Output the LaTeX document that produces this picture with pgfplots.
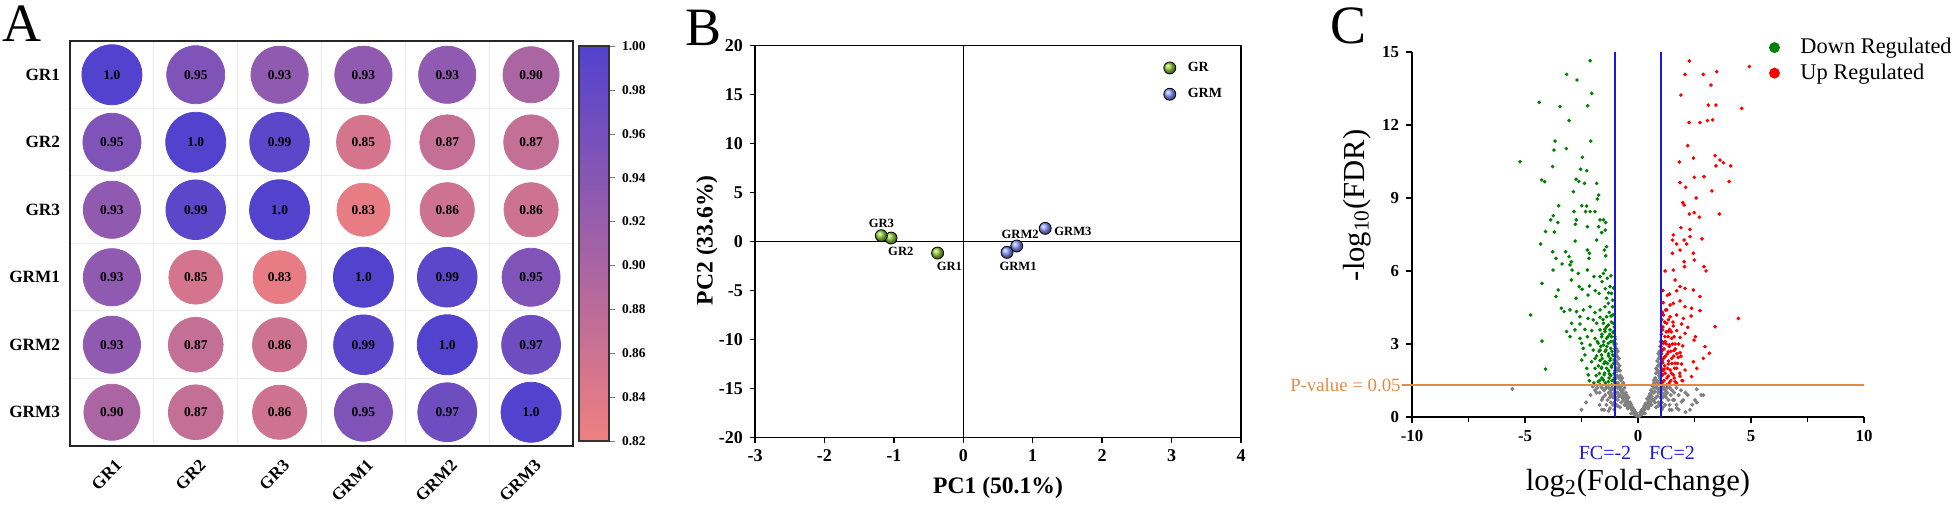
\documentclass[border=0pt]{standalone}
\usepackage{pgfplots}
\pgfplotsset{compat=1.18}
\usepackage{fontspec}
\setmainfont{Liberation Serif}
\usetikzlibrary{plotmarks}
\newcommand{\fs}[1]{\fontsize{#1}{#1}\selectfont}
\definecolor{cpink}{RGB}{240,128,128}
\definecolor{cblue}{RGB}{83,66,206}
\definecolor{grgreen}{RGB}{140,205,45}
\definecolor{grmblue}{RGB}{135,150,255}
\definecolor{dgreen}{RGB}{0,128,0}
\definecolor{ured}{RGB}{250,0,0}
\definecolor{ngray}{RGB}{128,128,128}
\definecolor{fcblue}{RGB}{25,25,220}
\definecolor{porange}{RGB}{225,140,70}
\pgfplotsset{
  corrpt/.style={only marks, mark=*, point meta=explicit,
    every node near coord/.append style={anchor=center, font=\bfseries\fs{6.7pt}, text=black}},
  corr2/.style 2 args={corrpt, mark size=#1, color=cblue!#2!cpink,
    nodes near coords={\pgfmathprintnumber[fixed, fixed zerofill, precision=2, assume math mode=true]{\pgfplotspointmeta}}},
  corr1/.style 2 args={corrpt, mark size=#1, color=cblue!#2!cpink,
    nodes near coords={\pgfmathprintnumber[fixed, fixed zerofill, precision=1, assume math mode=true]{\pgfplotspointmeta}}},
}

\begin{document}
\begin{tikzpicture}
\useasboundingbox (0,0) rectangle (980pt,253pt);
\node[anchor=north west, inner sep=0pt, font=\fs{27pt}] at (1pt,250.5pt) {A};
\node[anchor=north west, inner sep=0pt, font=\fs{27pt}] at (342.5pt,248pt) {B};
\node[anchor=north west, inner sep=0pt, font=\fs{27pt}] at (665pt,249.5pt) {C};

% ---------------- Panel A ----------------
\begin{axis}[
  at={(35pt,30pt)}, anchor=south west, scale only axis,
  width=251.5pt, height=202.5pt,
  xmin=-0.5, xmax=5.5, ymin=-0.5, ymax=5.5, y dir=reverse,
  xtick={0,...,5}, ytick={0,...,5},
  xticklabels={GR1,GR2,GR3,GRM1,GRM2,GRM3},
  yticklabels={GR1,GR2,GR3,GRM1,GRM2,GRM3},
  major tick length=0pt, minor tick length=0pt,
  minor xtick={0.5,1.5,2.5,3.5,4.5}, minor ytick={0.5,1.5,2.5,3.5,4.5},
  xminorgrids, yminorgrids, minor grid style={black!8, line width=0.5pt},
  axis line style={line width=1pt, black!85},
  xticklabel style={rotate=45, anchor=north east, font=\bfseries\fs{8.6pt}, yshift=-2pt},
  yticklabel style={font=\bfseries\fs{8.6pt}, xshift=-1.5pt},
  colormap={corr}{rgb255=(240,128,128) rgb255=(83,66,206)},
  point meta min=0.82, point meta max=1.0,
  colorbar,
  colorbar style={at={(1.012,0.5)}, anchor=west, scale only axis,
    width=15pt, height=197.5pt,
    ytick={0.82,0.84,0.86,0.88,0.90,0.92,0.94,0.96,0.98,1.00},
    ytick pos=right, yticklabel pos=right,
    tick align=outside, major tick length=3pt,
    axis line style={line width=0.6pt, black!80},
    yticklabel style={font=\bfseries\fs{6.7pt},
      /pgf/number format/.cd, fixed, fixed zerofill, precision=2, assume math mode=true}},
]
\addplot[corr1={15.0pt}{100}] coordinates {(0,0) [1.00] (1,1) [1.00] (2,2) [1.00] (3,3) [1.00] (4,4) [1.00] (5,5) [1.00]};
\addplot[corr2={14.9pt}{94}] coordinates {(2,1) [0.99] (1,2) [0.99] (4,3) [0.99] (3,4) [0.99]};
\addplot[corr2={14.7pt}{83}] coordinates {(5,4) [0.97] (4,5) [0.97]};
\addplot[corr2={14.5pt}{72}] coordinates {(1,0) [0.95] (0,1) [0.95] (5,3) [0.95] (3,5) [0.95]};
\addplot[corr2={14.3pt}{61}] coordinates {(2,0) [0.93] (3,0) [0.93] (4,0) [0.93] (0,2) [0.93] (0,3) [0.93] (0,4) [0.93]};
\addplot[corr2={14.0pt}{44}] coordinates {(5,0) [0.90] (0,5) [0.90]};
\addplot[corr2={13.7pt}{28}] coordinates {(4,1) [0.87] (5,1) [0.87] (1,4) [0.87] (1,5) [0.87]};
\addplot[corr2={13.55pt}{22}] coordinates {(4,2) [0.86] (5,2) [0.86] (2,4) [0.86] (2,5) [0.86]};
\addplot[corr2={13.45pt}{17}] coordinates {(3,1) [0.85] (1,3) [0.85]};
\addplot[corr2={13.25pt}{6}] coordinates {(3,2) [0.83] (2,3) [0.83]};
\end{axis}

% ---------------- Panel B ----------------
\begin{axis}[
  at={(377.5pt,34.15pt)}, anchor=south west, scale only axis,
  width=243pt, height=196pt,
  xmin=-3, xmax=4, ymin=-20, ymax=20,
  xtick={-3,...,4}, ytick={-20,-15,...,20},
  tick align=outside, xtick pos=bottom, ytick pos=left, major tick length=2.5pt,
  axis line style={line width=0.7pt},
  tick style={line width=0.7pt, black},
  tick label style={font=\bfseries\fs{9pt}},
  /pgf/number format/assume math mode=true,
  xlabel={PC1 (50.1\%)}, ylabel={PC2 (33.6\%)},
  label style={font=\bfseries\fs{11.8pt}},
  xlabel style={at={(axis description cs:0.5,-0.128)}, anchor=center},
  ylabel style={at={(axis description cs:-0.099,0.504)}, anchor=center},
  clip mode=individual,
  legend style={draw=none, fill=none, at={(0.8395,0.965)}, anchor=north west,
    inner sep=0pt, nodes={inner sep=1pt}, font=\bfseries\fs{7pt}, row sep=5pt},
  legend cell align=left,
  legend image code/.code={\draw[#1] plot coordinates {(0pt,0pt)}; \path[draw=none,fill=none] (-3pt,0pt) -- (8pt,0pt);},
]
\addplot[black, line width=0.7pt, forget plot] coordinates {(-3,0) (4,0)};
\addplot[black, line width=0.7pt, forget plot] coordinates {(0,-20) (0,20)};
\addplot[only marks, mark=ball, mark size=3pt, mark options={ball color=grgreen}]
  coordinates {(-0.37,-1.16) (-1.04,0.37) (-1.18,0.61)};
\addlegendentry{GR}
\addplot[only marks, mark=ball, mark size=3pt, mark options={ball color=grmblue}]
  coordinates {(0.63,-1.09) (0.77,-0.44) (1.18,1.36)};
\addlegendentry{GRM}
\node[font=\bfseries\fs{6.3pt}] at (axis cs:-1.18,1.87) {GR3};
\node[font=\bfseries\fs{6.3pt}] at (axis cs:-0.90,-1.02) {GR2};
\node[font=\bfseries\fs{6.3pt}] at (axis cs:-0.20,-2.52) {GR1};
\node[font=\bfseries\fs{6.3pt}] at (axis cs:0.79,-2.52) {GRM1};
\node[font=\bfseries\fs{6.3pt}] at (axis cs:0.82,0.71) {GRM2};
\node[font=\bfseries\fs{6.3pt}] at (axis cs:1.58,1.05) {GRM3};
\end{axis}

% ---------------- Panel C ----------------
\begin{axis}[
  at={(706pt,44.5pt)}, anchor=south west, scale only axis,
  width=226pt, height=182.5pt,
  xmin=-10, xmax=10, ymin=0, ymax=15,
  axis lines*=left, axis line style={line width=1pt},
  xtick={-10,-5,0,5,10}, minor xtick={-7.5,-2.5,2.5,7.5}, ytick={0,3,...,15},
  tick align=outside, major tick length=3pt, minor tick length=2.5pt,
  tick style={line width=0.8pt, black},
  tick label style={font=\bfseries\fs{8.4pt}},
  /pgf/number format/assume math mode=true,
  xlabel={log\textsubscript{2}(Fold-change)}, ylabel={-log\textsubscript{10}(FDR)},
  label style={font=\fs{15.3pt}},
  xlabel style={at={(axis description cs:0.5,-0.18)}, anchor=center},
  ylabel style={at={(axis description cs:-0.122,0.58)}, anchor=center},
  clip mode=individual,
  legend style={draw=none, fill=none, at={(0.79,1.044)}, anchor=north west,
    inner sep=0pt, nodes={inner sep=1pt}, font=\fs{11.2pt}, row sep=1.5pt},
  legend cell align=left,
  legend image code/.code={\draw[#1, mark size=2.5pt] plot coordinates {(0pt,0pt)}; \path[draw=none,fill=none] (-2.5pt,0pt) -- (12pt,0pt);},
]
% not significant
\addplot[only marks, mark=*, mark size=0.8pt, color=ngray, forget plot] coordinates {
(-1.0,3.2) (-0.98,3.0) (-0.95,2.8) (-0.99,2.6) (-0.93,2.5) (-0.9,2.7) (-0.97,2.3) (-0.9,2.2)
(-0.85,2.4) (-0.88,2.0) (-0.82,2.1) (-0.8,1.9) (-0.95,1.9) (-0.78,1.7) (-0.85,1.6) (-0.75,1.5)
(-0.7,1.6) (-0.72,1.3) (-0.65,1.4) (-0.68,1.1) (-0.6,1.2) (-0.62,0.9) (-0.55,1.0) (-0.55,0.8)
(-0.5,0.9) (-0.48,0.7) (-0.45,0.6) (-0.42,0.8) (-0.4,0.5) (-0.35,0.6) (-0.35,0.4) (-0.3,0.5)
(-0.28,0.3) (-0.25,0.4) (-0.22,0.25) (-0.2,0.15) (-0.18,0.3) (-0.15,0.1) (-0.12,0.2) (-0.1,0.08)
(-0.05,0.05) (-0.08,0.15)
(-1.0,1.2) (-1.05,1.0) (-1.1,1.15) (-1.15,0.9) (-1.2,1.1) (-1.25,0.8) (-1.3,1.0) (-1.35,0.7)
(-1.4,1.2) (-1.45,0.9) (-1.5,1.1) (-1.55,0.8) (-1.6,1.2) (-1.7,1.0) (-1.8,1.2) (-1.9,1.1)
(-2.0,1.25) (-1.2,0.6) (-1.1,0.5) (-1.0,0.8) (-0.95,1.0) (-0.9,0.7) (-0.85,1.2) (-1.05,0.3)
(-1.3,0.25) (-1.6,0.3) (-2.3,0.6) (-0.98,1.4) (-1.0,1.7) (-0.96,2.0) (-1.02,2.9) (-0.92,1.2)
(-0.8,0.9) (-0.75,1.1) (-0.7,0.8) (-5.56,1.15) (-1.83,1.0) (-1.50,0.29) (-1.24,0.36)
(-0.3,0.15) (-0.45,0.35) (-0.6,0.5) (-0.75,0.6) (-0.9,0.45) (-0.65,0.7) (-0.5,0.45) (-0.55,0.6)
(-0.8,1.2) (-0.7,1.0) (-0.9,1.0) (-0.85,0.85) (-1.0,1.0) (-1.1,0.8) (-1.2,0.9) (-1.3,1.2)
(-1.15,1.2) (-1.25,1.0) (-1.05,0.6) (-0.95,0.5) (-0.8,0.4) (-1.4,0.5) (-1.6,0.7) (-1.7,0.5)
(-2.1,0.9) (-2.5,0.3) (-0.92,1.7) (-0.88,1.4) (-0.97,1.6) (-0.9,1.9) (-1.0,2.2) (-1.0,2.5)
(1.0,3.1) (0.98,2.9) (0.95,2.7) (0.97,2.5) (0.92,2.4) (0.9,2.6) (0.95,2.2) (0.88,2.1)
(0.85,2.3) (0.86,1.9) (0.8,2.0) (0.8,1.8) (0.93,1.8) (0.76,1.6) (0.83,1.5) (0.72,1.4)
(0.7,1.5) (0.7,1.2) (0.63,1.3) (0.66,1.0) (0.58,1.1) (0.6,0.85) (0.53,0.95) (0.52,0.75)
(0.48,0.85) (0.46,0.65) (0.43,0.55) (0.4,0.75) (0.38,0.45) (0.33,0.55) (0.32,0.35) (0.28,0.45)
(0.26,0.28) (0.22,0.35) (0.2,0.2) (0.18,0.12) (0.16,0.28) (0.13,0.1) (0.1,0.18) (0.08,0.06)
(0.04,0.04)
(1.0,1.2) (1.05,1.0) (1.1,1.15) (1.15,0.9) (1.2,1.1) (1.25,0.8) (1.3,1.0) (1.35,0.7)
(1.4,1.2) (1.45,0.9) (1.5,1.1) (1.55,0.7) (1.6,1.0) (1.7,1.2) (1.8,0.9) (1.9,1.1)
(2.0,0.7) (2.2,0.9) (2.4,0.5) (2.8,0.9) (2.6,0.6) (1.2,0.5) (1.1,0.4) (1.0,0.8)
(0.95,1.0) (0.9,0.6) (0.85,1.2) (1.05,0.3) (1.4,0.3) (1.8,0.3) (2.1,0.2) (0.98,1.5)
(1.0,1.8) (0.96,2.1) (1.02,2.7) (0.92,1.1) (0.8,0.8) (0.75,1.05) (0.7,0.7)
(2.6,1.14) (2.89,0.9) (2.52,0.70) (1.93,0.63) (1.71,0.36) (1.49,0.29)
(0.3,0.15) (0.45,0.35) (0.6,0.5) (0.75,0.6) (0.9,0.45) (0.65,0.7) (0.5,0.45) (0.55,0.6)
(0.8,1.2) (0.7,1.0) (0.9,1.0) (0.85,0.85) (1.0,1.0) (1.1,0.8) (1.2,0.9) (1.3,1.2)
(1.15,1.2) (1.25,1.0) (1.05,0.6) (0.95,0.5) (0.8,0.4) (1.4,0.5) (1.6,0.7) (1.7,0.5)
(2.1,1.0) (2.3,0.3) (0.92,1.7) (0.88,1.4) (0.97,1.6) (0.9,1.9) (1.0,2.2) (1.0,2.5)
};
% down regulated
\addplot[only marks, mark=*, mark size=0.7pt, color=dgreen] coordinates {
(-2.12,14.64) (-3.16,14.08) (-2.70,13.85) (-2.05,13.30) (-4.37,12.93) (-3.45,12.75) (-2.23,12.79)
(-3.05,12.18) (-3.67,11.34) (-2.09,11.34) (-3.72,10.97) (-3.17,11.03) (-5.22,10.49) (-2.46,10.67)
(-3.78,10.29) (-2.54,10.18) (-2.27,10.12) (-4.26,9.74) (-4.13,9.67) (-2.74,9.77) (-2.62,9.68)
(-2.37,9.60) (-1.83,9.60) (-2.86,9.26) (-1.74,9.12) (-1.80,8.96) (-3.51,8.68) (-2.49,8.68)
(-2.27,8.67) (-2.83,8.44) (-2.32,8.44) (-2.12,8.44) (-1.90,8.44) (-3.75,8.27) (-3.86,8.10)
(-3.55,7.99) (-2.73,8.10) (-1.68,8.10) (-1.53,8.10) (-1.43,7.99) (-1.74,7.82) (-2.24,7.82)
(-2.77,7.92) (-4.09,7.62) (-3.70,7.60) (-1.61,7.58) (-1.45,7.68) (-2.78,7.23) (-1.83,7.27)
(-4.31,7.11) (-3.78,6.79) (-3.20,6.79) (-2.24,6.86) (-1.39,7.00) (-1.49,6.86) (-3.63,6.52)
(-3.05,6.59) (-2.95,6.38) (-2.15,6.73) (-2.17,6.52) (-1.43,6.62) (-3.36,6.29) (-3.01,6.25)
(-3.76,6.04) (-2.92,6.04) (-2.24,6.04) (-1.45,6.04) (-1.53,5.90) (-1.68,5.77) (-1.95,5.77)
(-2.64,5.90) (-2.95,5.63) (-4.25,5.49) (-1.36,5.70) (-1.59,5.56) (-2.15,5.38) (-2.60,5.36)
(-2.47,5.25) (-3.53,5.22) (-1.24,5.36) (-1.45,5.27) (-1.89,5.19) (-1.72,5.08) (-2.21,5.01)
(-3.63,4.95) (-2.74,4.88) (-1.39,4.88) (-1.17,5.08) (-3.39,4.47) (-3.27,4.33) (-3.01,4.40)
(-2.72,4.33) (-2.42,4.40) (-2.12,4.53) (-1.90,4.29) (-1.68,4.40) (-1.46,4.53) (-1.31,4.67)
(-1.12,4.53) (-4.75,4.19) (-2.57,4.12) (-2.21,4.05) (-1.98,3.99) (-1.68,4.10) (-1.39,4.12)
(-1.19,4.15) (-2.94,3.85) (-2.57,3.82) (-1.83,3.85) (-1.53,3.85) (-1.31,3.78) (-1.09,3.85)
(-3.16,3.51) (-2.79,3.58) (-2.35,3.60) (-2.05,3.55) (-1.68,3.58) (-1.46,3.51) (-1.24,3.58)
(-1.09,3.47) (-3.01,3.30) (-2.57,3.23) (-2.24,3.30) (-1.90,3.23) (-1.61,3.30) (-1.39,3.23)
(-1.17,3.30) (-4.25,3.12) (-2.49,3.03) (-2.12,2.96) (-1.76,3.03) (-1.53,2.96) (-1.31,3.03)
(-1.09,3.10) (-2.42,2.82) (-1.98,2.75) (-1.68,2.75) (-1.42,2.75) (-1.21,2.82) (-2.35,2.55)
(-1.83,2.51) (-1.61,2.55) (-1.31,2.51) (-1.12,2.55) (-2.49,2.34) (-2.05,2.27) (-1.68,2.32)
(-1.46,2.27) (-1.24,2.32) (-1.06,2.34) (-4.09,1.97) (-2.27,2.00) (-1.90,2.00) (-1.61,2.04)
(-1.39,2.00) (-1.17,2.04) (-2.20,1.73) (-1.71,1.79) (-1.50,1.73) (-1.27,1.77) (-1.06,1.79)
(-2.15,1.49) (-1.76,1.45) (-1.53,1.52) (-1.31,1.45) (-1.09,1.49) (-1.68,1.32) (-1.42,1.32)
(-1.17,1.32)
(-1.02,1.4) (-1.05,1.6) (-1.03,1.9) (-1.08,2.2) (-1.04,2.5) (-1.02,2.8) (-1.06,3.0) (-1.03,3.3)
(-1.1,3.5) (-1.05,3.7) (-1.15,1.5) (-1.2,1.7) (-1.18,2.1) (-1.22,2.4) (-1.15,2.7) (-1.2,3.1)
(-1.25,3.4) (-1.18,3.9) (-1.28,1.6) (-1.3,1.9) (-1.35,2.2) (-1.3,2.6) (-1.38,2.9) (-1.33,3.3)
(-1.4,3.7) (-1.27,4.3) (-1.45,1.4) (-1.48,1.8) (-1.5,2.2) (-1.45,2.7) (-1.52,3.1) (-1.47,3.6)
(-1.55,4.0) (-1.6,1.6) (-1.62,2.0) (-1.58,2.4) (-1.65,2.9) (-1.6,3.4) (-1.7,1.5) (-1.75,2.1)
(-1.72,2.7) (-1.8,3.1) (-1.85,1.7) (-1.9,2.4) (-1.95,1.4) (-1.12,4.8) (-1.08,5.3) (-1.2,5.8)
(-1.3,5.1) (-1.1,4.2)
};
\addlegendentry{Down Regulated}
% up regulated
\addplot[only marks, mark=*, mark size=0.7pt, color=ured] coordinates {
(2.27,14.63) (2.08,14.08) (2.89,14.08) (3.48,14.19) (4.93,14.40) (3.23,13.64) (1.90,13.23)
(3.11,12.82) (3.45,12.82) (4.59,12.68) (2.26,12.10) (2.74,12.10) (3.07,12.18) (3.30,12.21)
(2.20,11.15) (1.83,10.48) (2.45,10.64) (3.41,10.74) (3.45,10.32) (3.63,10.56) (3.78,10.45)
(4.10,10.32) (2.49,9.85) (2.92,9.88) (1.86,9.63) (2.11,9.44) (4.03,9.68) (3.27,9.29)
(2.57,9.00) (1.98,8.81) (2.04,8.71) (2.49,8.40) (2.71,8.21) (2.27,8.34) (3.60,8.34)
(1.56,7.48) (1.90,7.78) (2.30,7.71) (1.53,7.27) (2.04,7.27) (2.30,7.41) (2.83,7.32)
(1.71,7.11) (2.15,7.11) (1.52,6.73) (1.86,6.86) (2.45,6.73) (2.04,6.38) (2.49,6.45)
(1.56,6.04) (2.06,6.18) (2.92,6.18) (3.01,6.00) (1.64,5.63) (1.86,5.36) (2.08,5.29)
(1.39,5.05) (1.71,5.19) (2.45,5.22) (2.74,4.95) (1.22,4.40) (1.56,4.67) (1.86,4.77)
(2.08,4.53) (2.37,4.47) (2.74,4.37) (4.44,4.05) (1.12,4.19) (1.42,4.12) (1.71,4.19)
(2.01,4.05) (2.35,4.15) (3.41,3.71) (1.27,3.85) (1.56,3.74) (1.93,3.82) (2.20,3.68)
(1.09,3.58) (1.34,3.51) (1.71,3.55) (2.08,3.44) (1.19,3.30) (1.49,3.23) (1.86,3.27)
(2.48,3.16) (2.54,3.30) (1.12,3.03) (1.39,2.96) (1.64,3.00) (1.98,2.92) (2.96,2.89)
(1.09,2.75) (1.34,2.68) (1.59,2.73) (1.86,2.64) (3.16,2.62) (1.19,2.48) (1.49,2.41)
(1.78,2.45) (2.89,2.41) (1.09,2.23) (1.34,2.18) (1.64,2.21) (1.93,2.18) (2.45,2.27)
(2.60,2.00) (1.15,1.96) (1.42,1.93) (1.71,2.00) (2.08,1.93) (1.09,1.73) (1.34,1.68)
(1.56,1.73) (1.86,1.68) (2.37,1.66) (1.12,1.45) (1.39,1.41) (1.64,1.45) (1.98,1.49)
(1.08,1.32) (1.27,1.32)
(1.02,1.4) (1.05,1.7) (1.03,2.0) (1.07,2.3) (1.04,2.6) (1.02,2.9) (1.06,3.1) (1.03,3.4)
(1.1,3.7) (1.05,4.0) (1.15,1.5) (1.2,1.8) (1.18,2.1) (1.22,2.5) (1.15,2.8) (1.2,3.1)
(1.25,3.5) (1.18,3.9) (1.28,1.6) (1.3,2.0) (1.35,2.3) (1.3,2.6) (1.38,2.9) (1.33,3.3)
(1.4,3.6) (1.27,4.4) (1.45,1.5) (1.48,1.8) (1.5,2.2) (1.45,2.7) (1.52,3.0) (1.47,3.5)
(1.55,3.9) (1.6,1.6) (1.62,2.0) (1.58,2.5) (1.65,2.8) (1.6,3.3) (1.7,1.4) (1.75,2.2)
(1.72,2.6) (1.8,3.0) (1.85,1.8) (1.9,2.5) (1.95,1.5) (1.12,4.7) (1.1,5.2) (1.2,6.0)
(1.3,5.0) (1.08,4.3) (1.35,4.0) (1.42,4.6) (1.25,3.0) (1.12,2.4) (1.1,1.9)
};
\addlegendentry{Up Regulated}
\addplot[fcblue, line width=1pt, forget plot] coordinates {(-1,0) (-1,15)};
\addplot[fcblue, line width=1pt, forget plot] coordinates {(1,0) (1,15)};
\addplot[porange, line width=1pt, forget plot] coordinates {(-10,1.3) (10,1.3)};
\draw[porange, line width=1pt] (axis cs:-10,1.3) -- ++(-5pt,0pt);
\node[anchor=east, xshift=-5.5pt, inner sep=0pt, text=porange, font=\fs{9.4pt}] at (axis cs:-10,1.3) {P-value = 0.05};
\node[text=fcblue, font=\fs{10pt}, yshift=-18pt] at (axis cs:-1.46,0) {FC=-2};
\node[text=fcblue, font=\fs{10pt}, yshift=-18pt] at (axis cs:1.5,0) {FC=2};
\end{axis}
\end{tikzpicture}
\end{document}
